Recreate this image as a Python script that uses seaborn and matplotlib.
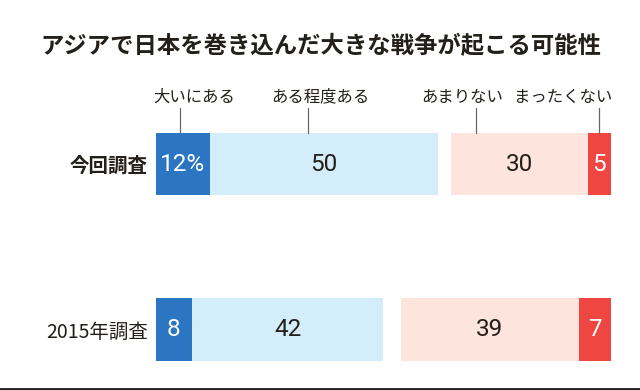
import numpy as np
import pandas as pd
import seaborn as sns
import matplotlib.pyplot as plt
from matplotlib.lines import Line2D

# data
surveys = ['今回調査', '2015年調査']
very_likely = [12, 8]
somewhat_likely = [50, 42]
no_answer = [3, 4]
not_very_likely = [30, 39]
not_at_all = [5, 7]

answer_labels = ['大いにある', 'ある程度ある', 'あまりない', 'まったくない']
title = 'アジアで日本を巻き込んだ大きな戦争が起こる可能性'

sns.set_theme(style='white')
plt.rcParams['font.family'] = ['Noto Sans CJK JP', 'DejaVu Sans']

segments = [very_likely, somewhat_likely, no_answer, not_very_likely, not_at_all]
colors = ['#2b75c2', '#d3edfb', '#ffffff', '#fde4dc', '#ee4641']
text_colors = ['white', '#231f1a', None, '#231f1a', 'white']

vals = np.array(segments, dtype=float)
cum = vals.cumsum(axis=0)

fig = plt.figure(figsize=(6.4, 3.9), dpi=100)
ax = fig.add_axes([155.7 / 640, 1 - 360.5 / 390, 454.8 / 640, 227.5 / 390])

bar_w = 0.375
# stacked bars: draw the longest cumulative first, shorter ones over it
for i in range(len(segments) - 1, -1, -1):
    df = pd.DataFrame({'survey': surveys, 'value': cum[i]})
    sns.barplot(data=df, x='value', y='survey', orient='h', color=colors[i],
                saturation=1, width=bar_w, linewidth=0, ax=ax)

ax.set_xlim(0, 100)
ax.set_ylim(1 + bar_w / 2, -bar_w / 2)
ax.set_xlabel('')
ax.set_ylabel('')
ax.set_xticks([])
sns.despine(ax=ax, left=True, bottom=True)

# row labels
ax.tick_params(axis='y', length=0, pad=5.5)
ax.set_yticks(range(len(surveys)))
ax.set_yticklabels(surveys, fontsize=14, color='#231f1a')
ax.get_yticklabels()[0].set_fontweight('bold')

# values in the bars
num_font = ['Liberation Sans Narrow', 'Roboto']
for i, seg in enumerate(segments):
    if text_colors[i] is None:
        continue
    for j, v in enumerate(seg):
        label = f'{v}%' if (i == 0 and j == 0) else f'{v}'
        ax.text(cum[i][j] - v / 2, j, label, ha='center', va='center',
                fontsize=17.5, color=text_colors[i], family=num_font)

# answer labels with leader lines
trans = ax.get_xaxis_transform()
label_x = [8.4, 36.1, 67.3, 89.6]
line_x = [5.3, 33.4, 70.4, cum[4][0] - not_at_all[0] / 2]
for lab, lx, tx in zip(answer_labels, line_x, label_x):
    ax.plot([lx, lx], [1.0, 1.11], transform=trans, color='#666666', lw=0.9,
            clip_on=False)
    ax.text(tx, 1.158, lab, transform=trans, ha='center', va='center',
            fontsize=11.8, color='#231f1a')

fig.text(40 / 640, 1 - 46 / 390, title, ha='left', va='center', fontsize=16.8,
         fontweight='bold', color='#231f1a')

fig.add_artist(Line2D([0, 1], [0.003, 0.003], transform=fig.transFigure,
                      color='#1e1e1e', lw=2))

fig.savefig('out.png', dpi=100, facecolor='white')
